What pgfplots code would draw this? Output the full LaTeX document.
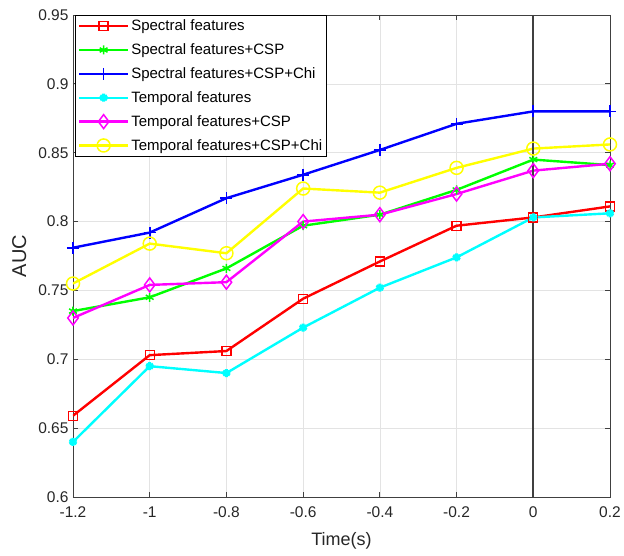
\documentclass[border=0pt]{standalone}
\usepackage{pgfplots}
\pgfplotsset{compat=1.18}
\usepackage{fontspec}
\setmainfont{Liberation Sans}
\usetikzlibrary{plotmarks}
\definecolor{mred}{RGB}{255,0,0}
\definecolor{mgreen}{RGB}{0,255,0}
\definecolor{mblue}{RGB}{0,0,255}
\definecolor{mcyan}{RGB}{0,255,255}
\definecolor{mmag}{RGB}{255,0,255}
\definecolor{myel}{RGB}{255,255,0}
\begin{document}
\begin{tikzpicture}
\begin{axis}[
  scale only axis, width=537pt, height=482pt,
  xmin=-1.2, xmax=0.2, ymin=0.6, ymax=0.95,
  xtick={-1.2,-1,-0.8,-0.6,-0.4,-0.2,0,0.2},
  ytick={0.6,0.65,0.7,0.75,0.8,0.85,0.9,0.95},
  yticklabels={0.6,0.65,0.7,0.75,0.8,0.85,0.9,0.95},
  xticklabels={-1.2,-1,-0.8,-0.6,-0.4,-0.2,0,0.2},
  grid=major, major grid style={gray!22, line width=0.7pt},
  axis line style={black!75, line width=0.9pt},
  tick style={black!75, line width=0.9pt}, major tick length=5pt,
  tick align=inside,
  ticklabel style={font=\fontsize{15.5}{17}\selectfont, text=black!85},
  yticklabel style={xshift=-1pt},
  xticklabel style={yshift=-6pt},
  xlabel={Time(s)}, ylabel={AUC},
  xlabel style={font=\fontsize{18}{20}\selectfont, text=black!85, yshift=-8pt},
  ylabel style={font=\fontsize{20}{22}\selectfont, text=black!85, yshift=5pt},
  /pgf/number format/assume math mode=true,
  legend style={at={(0,1)}, anchor=north west, xshift=2pt, yshift=0pt, draw=black, line width=0.9pt,
    font=\fontsize{15}{17}\selectfont, row sep=7.5pt, inner sep=2.5pt},
  legend cell align=left,
  legend image code/.code={\draw[#1, line width=2.4pt] (0cm,0cm) -- (1.72cm,0cm); \draw[#1,only marks] plot coordinates {(0.86cm,0cm)};},
]
\addplot[mred, line width=2.4pt, mark=square, mark size=4.5pt, mark options={solid,line width=1.3pt}] coordinates {(-1.2,0.659)(-1,0.703)(-0.8,0.706)(-0.6,0.744)(-0.4,0.771)(-0.2,0.797)(0,0.803)(0.2,0.811)};
\addlegendentry{Spectral features}
\addplot[mgreen, line width=2.4pt, mark=asterisk, mark size=4.5pt, mark options={solid,line width=1.5pt}] coordinates {(-1.2,0.735)(-1,0.745)(-0.8,0.766)(-0.6,0.797)(-0.4,0.805)(-0.2,0.823)(0,0.845)(0.2,0.841)};
\addlegendentry{Spectral features+CSP}
\addplot[mblue, line width=2.4pt, mark=+, mark options={solid,line width=1.7pt}, mark size=6pt] coordinates {(-1.2,0.781)(-1,0.792)(-0.8,0.817)(-0.6,0.834)(-0.4,0.852)(-0.2,0.871)(0,0.880)(0.2,0.880)};
\addlegendentry{Spectral features+CSP+Chi}
\addplot[mcyan, line width=2.4pt, mark=asterisk, mark options={solid,line width=3pt}, mark size=4pt] coordinates {(-1.2,0.640)(-1,0.695)(-0.8,0.690)(-0.6,0.723)(-0.4,0.752)(-0.2,0.774)(0,0.803)(0.2,0.806)};
\addlegendentry{Temporal features}
\addplot[mmag, line width=2.4pt, mark=diamond, mark options={solid,line width=1.5pt}, mark size=7pt] coordinates {(-1.2,0.730)(-1,0.754)(-0.8,0.756)(-0.6,0.800)(-0.4,0.805)(-0.2,0.820)(0,0.837)(0.2,0.842)};
\addlegendentry{Temporal features+CSP}
\addplot[myel, line width=2.4pt, mark=o, mark options={solid,line width=1.5pt}, mark size=6.5pt] coordinates {(-1.2,0.755)(-1,0.784)(-0.8,0.777)(-0.6,0.824)(-0.4,0.821)(-0.2,0.839)(0,0.853)(0.2,0.856)};
\addlegendentry{Temporal features+CSP+Chi}
\addplot[black!75, line width=1.6pt, forget plot, no marks] coordinates {(0,0.6)(0,0.95)};
\end{axis}
\pgfresetboundingbox
\path ([shift={(-73pt,-59pt)}]current axis.south west) rectangle ([shift={(14pt,15pt)}]current axis.north east);
\end{tikzpicture}
\end{document}
